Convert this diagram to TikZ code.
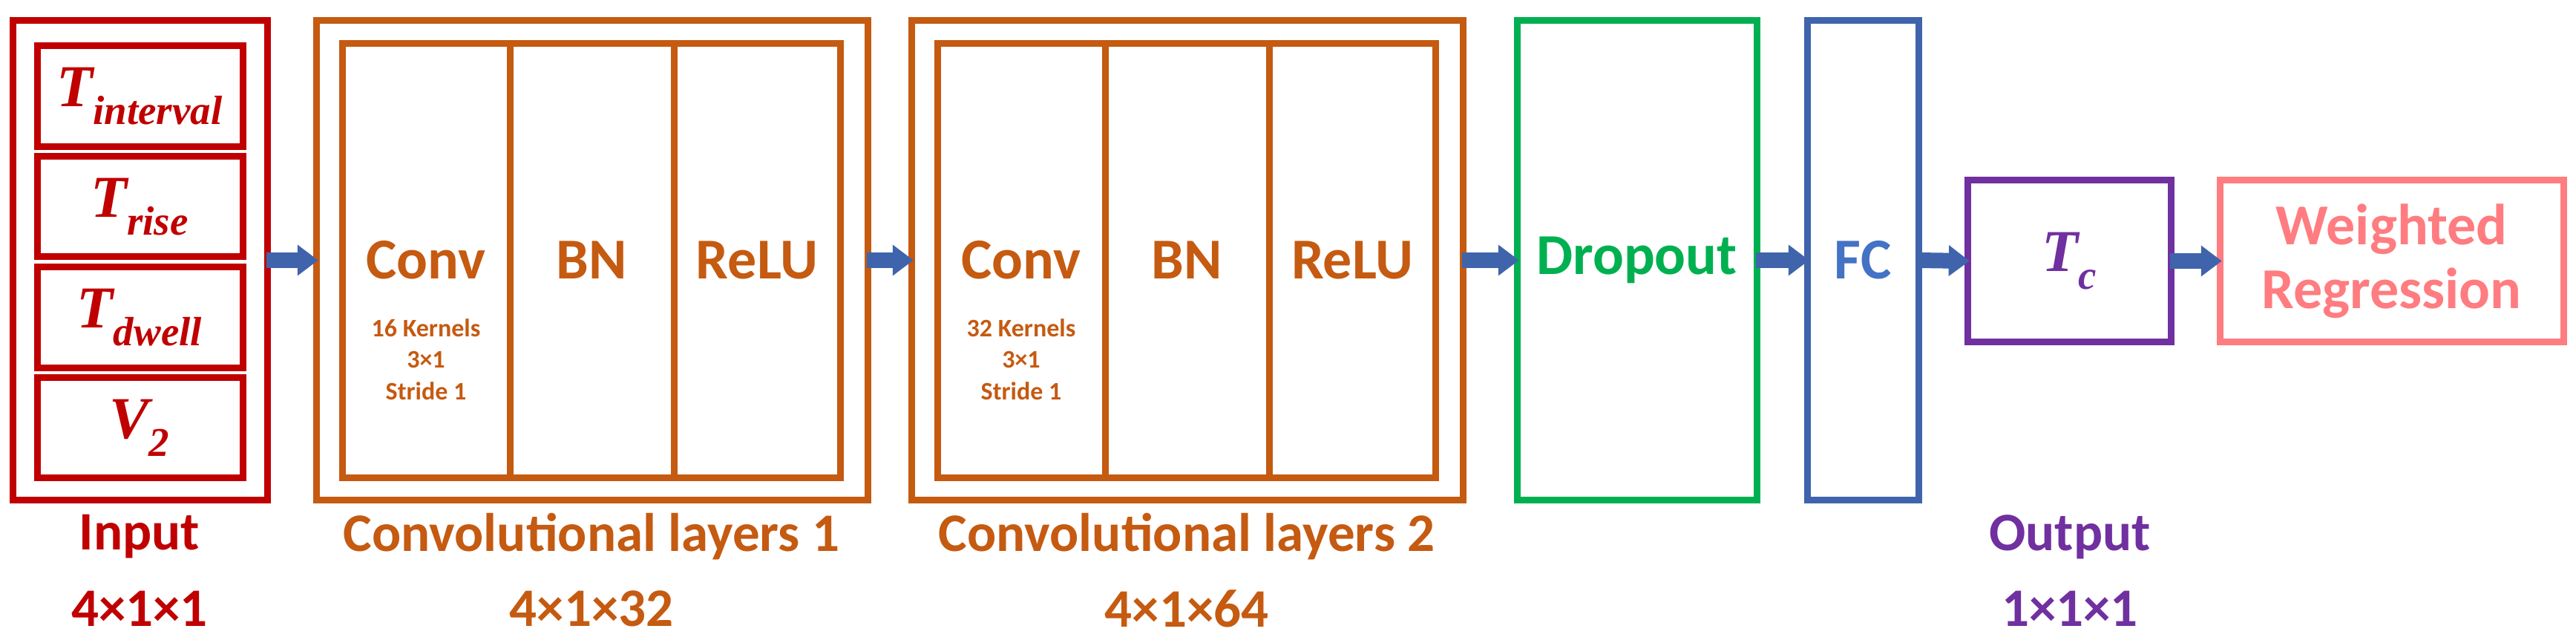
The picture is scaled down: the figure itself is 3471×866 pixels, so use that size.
\documentclass[tikz,border=0pt]{standalone}
\usepackage{fontspec}
\setmainfont{Carlito}
\newfontfamily\tms{Liberation Serif}
\usetikzlibrary{arrows.meta}
\definecolor{cred}{HTML}{C00000}
\definecolor{corg}{HTML}{C55A11}
\definecolor{cgrn}{HTML}{00B050}
\definecolor{cblu}{HTML}{4472C4}
\definecolor{cbld}{HTML}{3F64AC}
\definecolor{cpur}{HTML}{7030A0}
\definecolor{cpnk}{HTML}{FF7C80}
\newcommand{\fs}[1]{\fontsize{#1}{1.2\dimexpr#1pt\relax}\selectfont}
\begin{document}
\begin{tikzpicture}[x=1pt,y=-1pt,
  box/.style={draw,line width=9pt,inner sep=0pt},
  lab/.style={font=\bfseries\fs{73}},
  big/.style={font=\bfseries\fs{78}},
  ar/.style={-{Triangle[length=28pt,width=40pt]},line width=21pt,cbld,shorten <=-1pt,shorten >=-3pt}]
\useasboundingbox (0,0) rectangle (3471,866);
% input
\draw[box,cred] (17,28) rectangle (360,673);
\node (in) at (188.5,350.5) [minimum width=343pt,minimum height=645pt] {};
\foreach \a/\b/\s/\n in {62/198/interval/i1,211/346/rise/i2,360/495/dwell/i3,508/643/2/i4}{
  \draw[box,cred] (50,\a) rectangle (327,\b);}
\node[cred,font=\tms\bfseries\itshape\fs{80}] at (188,130) {T\raisebox{-0.3em}{\fs{55}interval}};
\node[cred,font=\tms\bfseries\itshape\fs{80}] at (188,279) {T\raisebox{-0.3em}{\fs{55}rise}};
\node[cred,font=\tms\bfseries\itshape\fs{80}] at (188,428) {T\raisebox{-0.3em}{\fs{55}dwell}};
\node[cred,font=\tms\bfseries\itshape\fs{80}] at (188,576) {V\raisebox{-0.3em}{\fs{55}2}};
\node[lab,cred] at (188,723) {Input};
\node[lab,cred] at (188,820) {4×1×1};
% conv1
\foreach \x/\k/\nm/\lb in {426/16/c1/1,1228/32/c2/2}{
  \draw[box,corg] (\x,28) rectangle ({\x+743},673);
  \node (\nm) at ({\x+371.5},350.5) [minimum width=743pt,minimum height=645pt] {};
  \draw[box,corg] ({\x+35},59) rectangle ({\x+706},643);
  \draw[corg,line width=9pt] ({\x+261},59) -- ({\x+261},643) ({\x+482},59) -- ({\x+482},643);
  \node[big,corg] at ({\x+148},350) {Conv};
  \node[big,corg] at ({\x+371},350) {BN};
  \node[big,corg] at ({\x+594},350) {ReLU};
  \node[corg,font=\bfseries\fs{34},align=center,inner sep=0pt] at ({\x+148},484) {\k\ Kernels\\[2pt]3×1\\[2pt]Stride 1};
  \node[lab,corg] at ({\x+371},723) {Convolutional layers \lb};
}
\node[lab,corg] at (797,820) {4×1×32};
\node[lab,corg] at (1599,820) {4×1×64};
% dropout
\draw[box,cgrn] (2044,28) rectangle (2367,673);
\node[big,cgrn] (dr) at (2205.5,350.5) [minimum width=323pt,minimum height=645pt] {Dropout};
\draw[box,cbld] (2435,28) rectangle (2585,673);
\node[big,cblu] (fc) at (2510,350.5) [minimum width=150pt,minimum height=645pt] {FC};
\draw[box,cpur] (2651,243) rectangle (2925,460);
\node[cpur,font=\tms\bfseries\itshape\fs{80}] (tc) at (2788,351.5) [minimum width=274pt,minimum height=217pt] {T\raisebox{-0.3em}{\fs{55}c}};
\draw[box,cpnk] (2991,243) rectangle (3454,460);
\node[big,cpnk,align=center,inner sep=0pt] (wr) at (3222.5,351.5) [minimum width=463pt,minimum height=217pt] {Weighted\\[-8pt]Regression};
\node[lab,cpur] at (2789,723) {Output};
\node[lab,cpur] at (2789,820) {1×1×1};
% arrows
\draw[ar] (in.east) -- (c1.west);
\draw[ar] (c1.east) -- (c2.west);
\draw[ar] (c2.east) -- (dr.west);
\draw[ar] (dr.east) -- (fc.west);
\draw[ar] (fc.east) -- (tc.west);
\draw[ar] (tc.east) -- (wr.west);
\end{tikzpicture}
\end{document}
